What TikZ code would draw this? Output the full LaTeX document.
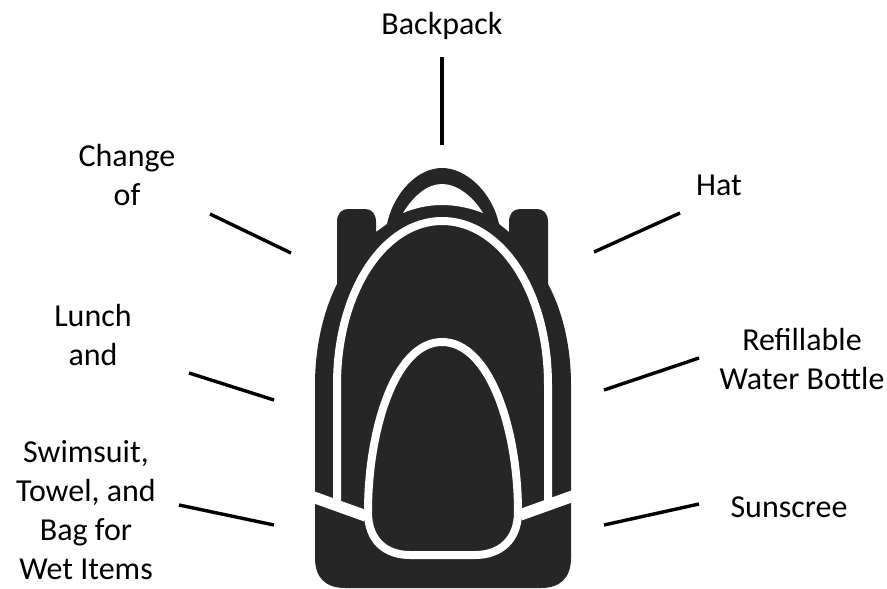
\documentclass[tikz,border=0pt]{standalone}
\usepackage{xcolor}
\usepackage{fontspec}
\setmainfont{Carlito}
\usetikzlibrary{positioning}

\begin{document}
\begin{tikzpicture}[
    x=1pt, y=-1pt,
    itemLabel/.style={font=\fontsize{32}{39}\selectfont, text=black, align=center, inner sep=0pt},
    pointer/.style={line width=3.4pt, draw=black},
    bagSeam/.style={draw=white, line width=8pt},
    bagStrap/.style={draw=white, line width=11.5pt}
]

    \definecolor{bagDark}{HTML}{262626}

    \useasboundingbox (0,0) rectangle (887,589);

    % backpack
    \fill[bagDark] (337,290) -- (337,222) .. controls (337,213) and (342,209) .. (348,209)
        -- (365,209) .. controls (372,209) and (376,214) .. (376,222) -- (376,232) -- (387,224)
        .. controls (394,192) and (418,168) .. (442,168)
        .. controls (466,168) and (492,192) .. (499,224)
        -- (509,232) -- (509,222) .. controls (509,214) and (513,209) .. (520,209)
        -- (537,209) .. controls (543,209) and (548,213) .. (548,222) -- (548,284)
        .. controls (562,310) and (571,345) .. (571,385)
        -- (571,558) .. controls (571,578) and (560,588) .. (541,588)
        -- (345,588) .. controls (326,588) and (315,578) .. (315,558)
        -- (315,385) .. controls (315,345) and (324,310) .. (337,284) -- cycle;
    \fill[white] (403,213) .. controls (414,195) and (428,184) .. (442,184)
        .. controls (456,184) and (472,195) .. (483,213)
        .. controls (470,208) and (456,205) .. (442,205)
        .. controls (428,205) and (415,208) .. (403,213) -- cycle;

    \draw[bagSeam] (337,502) -- (337,385)
        .. controls (337,290) and (385,221) .. (442,221)
        .. controls (500,221) and (548,290) .. (548,385) -- (548,502);
    \draw[bagStrap] (313,497) -- (366,516);
    \draw[bagStrap] (520,515) -- (573,496);
    \draw[bagSeam] (368,512)
        .. controls (368,430) and (395,342) .. (442,342)
        .. controls (490,342) and (518,430) .. (518,512)
        .. controls (518,540) and (500,555) .. (475,555)
        -- (410,555) .. controls (385,555) and (368,540) .. (368,512) -- cycle;

    \node[itemLabel] (backpackLabel) at (442,26) {Backpack};
    \node[itemLabel] (changeLabel) at (127,175) {Change\\of};
    \node[itemLabel] (hatLabel) at (719,185) {Hat};
    \node[itemLabel] (lunchLabel) at (93,335) {Lunch\\and};
    \node[itemLabel] (bottleLabel) at (802,359) {Refillable\\Water Bottle};
    \node[itemLabel] (swimLabel) at (86,510) {Swimsuit,\\Towel, and\\Bag for\\Wet Items};
    \node[itemLabel] (sunLabel) at (789,507) {Sunscree};

    \coordinate (backpackOuter) at (442,57);
    \coordinate (backpackInner) at (442,145);
    \coordinate (changeOuter) at (210,214);
    \coordinate (changeInner) at (291,253);
    \coordinate (lunchOuter) at (189,373);
    \coordinate (lunchInner) at (274,400);
    \coordinate (swimOuter) at (179,505);
    \coordinate (swimInner) at (274,525);
    \coordinate (hatOuter) at (680,213);
    \coordinate (hatInner) at (594,252);
    \coordinate (bottleOuter) at (699,358);
    \coordinate (bottleInner) at (604,390);
    \coordinate (sunOuter) at (699,504);
    \coordinate (sunInner) at (604,525);

    \draw[pointer] (backpackOuter) -- (backpackInner);
    \draw[pointer] (changeOuter) -- (changeInner);
    \draw[pointer] (lunchOuter) -- (lunchInner);
    \draw[pointer] (swimOuter) -- (swimInner);
    \draw[pointer] (hatOuter) -- (hatInner);
    \draw[pointer] (bottleOuter) -- (bottleInner);
    \draw[pointer] (sunOuter) -- (sunInner);

\end{tikzpicture}
\end{document}
